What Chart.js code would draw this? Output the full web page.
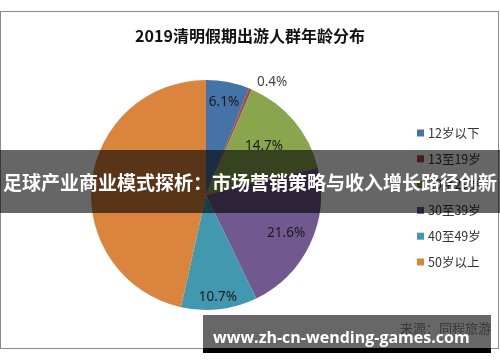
<!DOCTYPE html>
<html>
<head>
<meta charset="utf-8">
<script src="https://cdn.jsdelivr.net/npm/chart.js@4.4.0/dist/chart.umd.min.js"></script>
<style>
  body { margin: 0; background: #fff; font-family: "Noto Sans CJK SC", "Noto Sans", sans-serif; }
  #wrap { position: relative; width: 500px; height: 362px; overflow: hidden; }
  #frame { position: absolute; left: 0; top: 11px; width: 497px; height: 336px; border: 1.5px solid #8c8c8c; }
  canvas { position: absolute; left: 0; top: 0; }
  #banner { position: absolute; left: 0; top: 150px; width: 500px; height: 63px; background: rgba(0,0,0,0.6);
    color: #fff; font-weight: bold; font-size: 19px; line-height: 63px; text-align: center; white-space: nowrap; }
  #source { position: absolute; left: 400px; top: 318px; font-size: 13px; color: #333; }
  #mark { position: absolute; left: 203px; top: 315px; width: 278px; height: 33px; background: rgba(60,60,60,0.78);
    border-bottom: 5px solid #000; color: #fff; font-weight: bold; font-size: 16px; line-height: 44px;
    padding-left: 10px; box-sizing: content-box; white-space: nowrap; font-family: "Open Sans", "Noto Sans", sans-serif; }
</style>
</head>
<body>
<div id="wrap">
  <div id="frame"></div>
  <canvas id="pieChart" width="500" height="362"></canvas>
  <div id="banner">足球产业商业模式探析：市场营销策略与收入增长路径创新</div>
  <div id="source">来源：同程旅游</div>
  <div id="mark">www.zh-cn-wending-games.com</div>
</div>
<script>
var chartTitle = '2019清明假期出游人群年龄分布';
var ageGroups = ['12岁以下', '13至19岁', '20至29岁', '30至39岁', '40至49岁', '50岁以上'];
var shares = [6.1, 0.4, 14.7, 21.6, 10.7, 46.5];
var sliceColors = ['#4572A7', '#AA4643', '#89A54E', '#71588F', '#4198AF', '#DB843D'];

// where each percent label sits, as a fraction of the radius (0 = not shown)
var labelRadius = [0.82, 1.04, 0.66, 0.77, 0.89, 0];

var decorPlugin = {
    id: 'decor',
    afterDraw: function(chart) {
        var ctx = chart.ctx;
        var meta = chart.getDatasetMeta(0);
        ctx.save();
        ctx.fillStyle = '#111';
        ctx.font = 'bold 16px "Noto Sans CJK SC", sans-serif';
        ctx.textAlign = 'center';
        ctx.textBaseline = 'middle';
        ctx.fillText(chartTitle, 250, 36);

        ctx.font = '13.5px "Noto Sans", sans-serif';
        meta.data.forEach(function(arc, i) {
            if (!labelRadius[i]) return;
            var mid = (arc.startAngle + arc.endAngle) / 2;
            var r = arc.outerRadius * labelRadius[i];
            var x = arc.x + Math.cos(mid) * r;
            var y = arc.y + Math.sin(mid) * r;
            if (labelRadius[i] > 1) { x += 20; y -= 2; }
            ctx.fillStyle = labelRadius[i] > 1 ? '#444' : '#1a1a1a';
            ctx.fillText(shares[i].toFixed(1) + '%', x, y);
        });

        ctx.font = '12.5px "Noto Sans CJK SC", sans-serif';
        ctx.textAlign = 'left';
        ageGroups.forEach(function(name, i) {
            var y = 133 + i * 25.8;
            ctx.fillStyle = sliceColors[i];
            ctx.fillRect(417, y - 3.5, 7, 7);
            ctx.fillStyle = '#333';
            ctx.fillText(name, 428, y);
        });
        ctx.restore();
    }
};

new Chart(document.getElementById('pieChart'), {
    type: 'pie',
    data: {
        labels: ageGroups,
        datasets: [{
            data: shares,
            backgroundColor: sliceColors,
            borderWidth: 0
        }]
    },
    options: {
        responsive: false,
        animation: false,
        layout: { padding: { left: 90, right: 178, top: 80, bottom: 52 } },
        plugins: {
            legend: { display: false },
            tooltip: { enabled: false },
            title: { display: false }
        }
    },
    plugins: [decorPlugin]
});
</script>
</body>
</html>
